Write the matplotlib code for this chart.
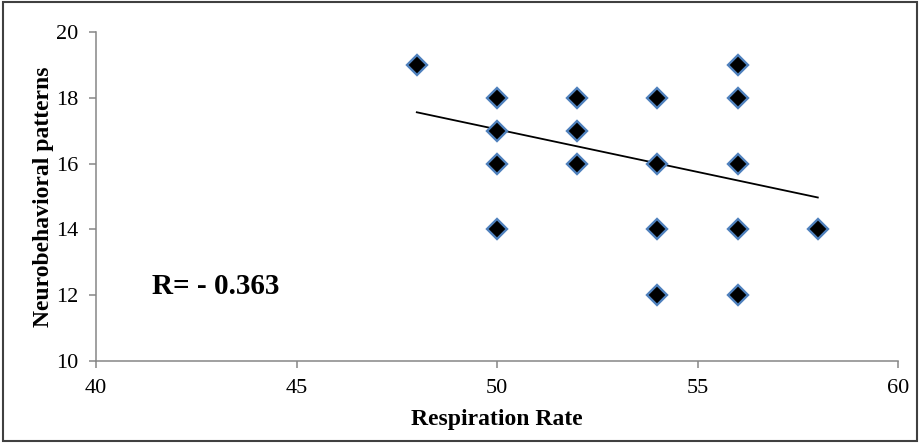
import matplotlib.pyplot as plt
from matplotlib.patches import Rectangle

# respiration rate vs neurobehavioral score
resp_rate = [48, 50, 50, 50, 50, 52, 52, 52, 54, 54, 54, 54, 56, 56, 56, 56, 56, 58]
neuro_score = [19, 18, 17, 16, 14, 18, 17, 16, 18, 16, 14, 12, 19, 18, 16, 14, 12, 14]

# linear trend line end points
trend_x = [48, 58]
trend_y = [17.56, 14.97]

x_ticks = [40, 45, 50, 55, 60]
y_ticks = [10, 12, 14, 16, 18, 20]

plt.rcParams['font.family'] = ['Liberation Serif', 'DejaVu Serif']

fig = plt.figure(figsize=(9.2, 4.43), dpi=100)
ax = fig.add_axes([96 / 920, 1 - 361 / 443, (898 - 96) / 920, (361 - 32) / 443])

ax.plot(trend_x, trend_y, color='black', linewidth=1.3, zorder=2)
ax.plot(resp_rate, neuro_score, linestyle='none', marker='D', markersize=10,
        markerfacecolor='black', markeredgecolor='#4f81bd', markeredgewidth=1.7, zorder=3)

ax.set_xlim(40, 60)
ax.set_ylim(10, 20)
ax.set_xticks(x_ticks)
ax.set_yticks(y_ticks)

for side in ['top', 'right']:
    ax.spines[side].set_visible(False)
for side in ['left', 'bottom']:
    ax.spines[side].set_color('#868686')
    ax.spines[side].set_linewidth(1.1)
ax.tick_params(direction='out', length=5, width=1.1, color='#868686', labelsize=16, pad=8)

ax.set_xlabel('Respiration Rate', fontsize=17, fontweight='bold', labelpad=8)
ax.set_ylabel('Neurobehavioral patterns', fontsize=17, fontweight='bold', labelpad=1)

ax.text(41.4, 12.25, 'R= - 0.363', fontsize=21, fontweight='bold', va='center')

# outer frame
fig.patches.append(Rectangle((0.003, 0.005), 0.994, 0.99, transform=fig.transFigure,
                             fill=False, edgecolor='#404040', linewidth=1.5))

fig.savefig('out.png', dpi=100)
